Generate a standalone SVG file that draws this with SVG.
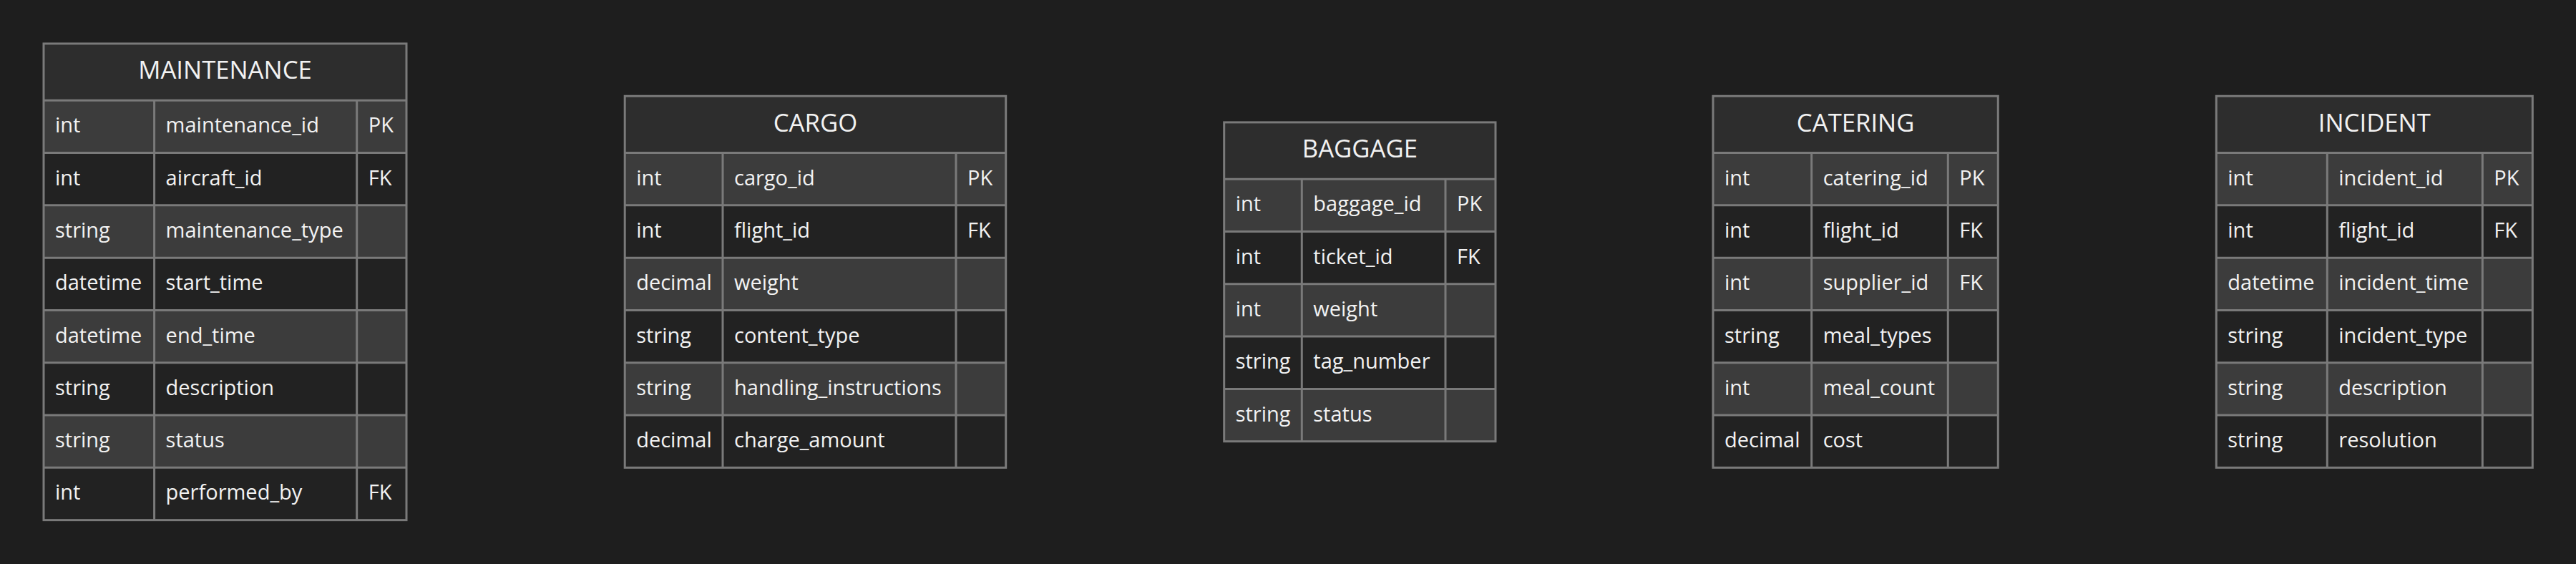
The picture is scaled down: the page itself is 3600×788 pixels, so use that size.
<svg xmlns="http://www.w3.org/2000/svg" width="3600" height="788" viewBox="0 0 3600 788">
<style>
.bg{fill:#1e1e1e}
.hd{fill:#2d2d2d}
.rl{fill:#3c3c3c}
.rd{fill:#222222}
.ln{stroke:#7a7a7a;stroke-width:3;fill:none}
.ht{font-family:"Open Sans","Noto Sans",sans-serif;font-size:34.7px;fill:#f2f2f2;text-anchor:middle}
.t{font-family:"Open Sans","Noto Sans",sans-serif;font-size:29px;fill:#f2f2f2}
</style>
<rect class="bg" x="0" y="0" width="3600" height="788"/>
<g id="connectors"/>

<g id="maintenance" transform="translate(61,60.95)">
<rect class="hd" x="0" y="0" width="507" height="79.3"/>
<rect class="rl" x="0" y="79.3" width="507" height="73.3"/>
<rect class="rd" x="0" y="152.6" width="507" height="73.3"/>
<rect class="rl" x="0" y="225.9" width="507" height="73.3"/>
<rect class="rd" x="0" y="299.2" width="507" height="73.3"/>
<rect class="rl" x="0" y="372.5" width="507" height="73.3"/>
<rect class="rd" x="0" y="445.8" width="507" height="73.3"/>
<rect class="rl" x="0" y="519.1" width="507" height="73.3"/>
<rect class="rd" x="0" y="592.4" width="507" height="73.3"/>
<path class="ln" d="M0 79.3H507M0 152.6H507M0 225.9H507M0 299.2H507M0 372.5H507M0 445.8H507M0 519.1H507M0 592.4H507M154.6 79.3V665.7M437.7 79.3V665.7"/>
<rect class="ln" x="0" y="0" width="507" height="665.7"/>
<text class="ht" x="253.5" y="49.35">MAINTENANCE</text>
<text class="t" x="16" y="124.45">int</text><text class="t" x="170.6" y="124.45">maintenance_id</text><text class="t" x="453.7" y="124.45">PK</text>
<text class="t" x="16" y="197.75">int</text><text class="t" x="170.6" y="197.75">aircraft_id</text><text class="t" x="453.7" y="197.75">FK</text>
<text class="t" x="16" y="271.05">string</text><text class="t" x="170.6" y="271.05">maintenance_type</text>
<text class="t" x="16" y="344.35">datetime</text><text class="t" x="170.6" y="344.35">start_time</text>
<text class="t" x="16" y="417.65">datetime</text><text class="t" x="170.6" y="417.65">end_time</text>
<text class="t" x="16" y="490.95">string</text><text class="t" x="170.6" y="490.95">description</text>
<text class="t" x="16" y="564.25">string</text><text class="t" x="170.6" y="564.25">status</text>
<text class="t" x="16" y="637.55">int</text><text class="t" x="170.6" y="637.55">performed_by</text><text class="t" x="453.7" y="637.55">FK</text>
</g>

<g id="cargo" transform="translate(873.2,134.25)">
<rect class="hd" x="0" y="0" width="532.5" height="79.3"/>
<rect class="rl" x="0" y="79.3" width="532.5" height="73.3"/>
<rect class="rd" x="0" y="152.6" width="532.5" height="73.3"/>
<rect class="rl" x="0" y="225.9" width="532.5" height="73.3"/>
<rect class="rd" x="0" y="299.2" width="532.5" height="73.3"/>
<rect class="rl" x="0" y="372.5" width="532.5" height="73.3"/>
<rect class="rd" x="0" y="445.8" width="532.5" height="73.3"/>
<path class="ln" d="M0 79.3H532.5M0 152.6H532.5M0 225.9H532.5M0 299.2H532.5M0 372.5H532.5M0 445.8H532.5M136.8 79.3V519.1M462.8 79.3V519.1"/>
<rect class="ln" x="0" y="0" width="532.5" height="519.1"/>
<text class="ht" x="266.25" y="49.35">CARGO</text>
<text class="t" x="16" y="124.45">int</text><text class="t" x="152.8" y="124.45">cargo_id</text><text class="t" x="478.8" y="124.45">PK</text>
<text class="t" x="16" y="197.75">int</text><text class="t" x="152.8" y="197.75">flight_id</text><text class="t" x="478.8" y="197.75">FK</text>
<text class="t" x="16" y="271.05">decimal</text><text class="t" x="152.8" y="271.05">weight</text>
<text class="t" x="16" y="344.35">string</text><text class="t" x="152.8" y="344.35">content_type</text>
<text class="t" x="16" y="417.65">string</text><text class="t" x="152.8" y="417.65">handling_instructions</text>
<text class="t" x="16" y="490.95">decimal</text><text class="t" x="152.8" y="490.95">charge_amount</text>
</g>

<g id="baggage" transform="translate(1710.7,170.9)">
<rect class="hd" x="0" y="0" width="379.3" height="79.3"/>
<rect class="rl" x="0" y="79.3" width="379.3" height="73.3"/>
<rect class="rd" x="0" y="152.6" width="379.3" height="73.3"/>
<rect class="rl" x="0" y="225.9" width="379.3" height="73.3"/>
<rect class="rd" x="0" y="299.2" width="379.3" height="73.3"/>
<rect class="rl" x="0" y="372.5" width="379.3" height="73.3"/>
<path class="ln" d="M0 79.3H379.3M0 152.6H379.3M0 225.9H379.3M0 299.2H379.3M0 372.5H379.3M108.6 79.3V445.8M309.3 79.3V445.8"/>
<rect class="ln" x="0" y="0" width="379.3" height="445.8"/>
<text class="ht" x="189.65" y="49.35">BAGGAGE</text>
<text class="t" x="16" y="124.45">int</text><text class="t" x="124.6" y="124.45">baggage_id</text><text class="t" x="325.3" y="124.45">PK</text>
<text class="t" x="16" y="197.75">int</text><text class="t" x="124.6" y="197.75">ticket_id</text><text class="t" x="325.3" y="197.75">FK</text>
<text class="t" x="16" y="271.05">int</text><text class="t" x="124.6" y="271.05">weight</text>
<text class="t" x="16" y="344.35">string</text><text class="t" x="124.6" y="344.35">tag_number</text>
<text class="t" x="16" y="417.65">string</text><text class="t" x="124.6" y="417.65">status</text>
</g>

<g id="catering" transform="translate(2394,134.25)">
<rect class="hd" x="0" y="0" width="398.3" height="79.3"/>
<rect class="rl" x="0" y="79.3" width="398.3" height="73.3"/>
<rect class="rd" x="0" y="152.6" width="398.3" height="73.3"/>
<rect class="rl" x="0" y="225.9" width="398.3" height="73.3"/>
<rect class="rd" x="0" y="299.2" width="398.3" height="73.3"/>
<rect class="rl" x="0" y="372.5" width="398.3" height="73.3"/>
<rect class="rd" x="0" y="445.8" width="398.3" height="73.3"/>
<path class="ln" d="M0 79.3H398.3M0 152.6H398.3M0 225.9H398.3M0 299.2H398.3M0 372.5H398.3M0 445.8H398.3M137.7 79.3V519.1M328.3 79.3V519.1"/>
<rect class="ln" x="0" y="0" width="398.3" height="519.1"/>
<text class="ht" x="199.15" y="49.35">CATERING</text>
<text class="t" x="16" y="124.45">int</text><text class="t" x="153.7" y="124.45">catering_id</text><text class="t" x="344.3" y="124.45">PK</text>
<text class="t" x="16" y="197.75">int</text><text class="t" x="153.7" y="197.75">flight_id</text><text class="t" x="344.3" y="197.75">FK</text>
<text class="t" x="16" y="271.05">int</text><text class="t" x="153.7" y="271.05">supplier_id</text><text class="t" x="344.3" y="271.05">FK</text>
<text class="t" x="16" y="344.35">string</text><text class="t" x="153.7" y="344.35">meal_types</text>
<text class="t" x="16" y="417.65">int</text><text class="t" x="153.7" y="417.65">meal_count</text>
<text class="t" x="16" y="490.95">decimal</text><text class="t" x="153.7" y="490.95">cost</text>
</g>

<g id="incident" transform="translate(3097.3,134.25)">
<rect class="hd" x="0" y="0" width="442" height="79.3"/>
<rect class="rl" x="0" y="79.3" width="442" height="73.3"/>
<rect class="rd" x="0" y="152.6" width="442" height="73.3"/>
<rect class="rl" x="0" y="225.9" width="442" height="73.3"/>
<rect class="rd" x="0" y="299.2" width="442" height="73.3"/>
<rect class="rl" x="0" y="372.5" width="442" height="73.3"/>
<rect class="rd" x="0" y="445.8" width="442" height="73.3"/>
<path class="ln" d="M0 79.3H442M0 152.6H442M0 225.9H442M0 299.2H442M0 372.5H442M0 445.8H442M155 79.3V519.1M372 79.3V519.1"/>
<rect class="ln" x="0" y="0" width="442" height="519.1"/>
<text class="ht" x="221" y="49.35">INCIDENT</text>
<text class="t" x="16" y="124.45">int</text><text class="t" x="171" y="124.45">incident_id</text><text class="t" x="388" y="124.45">PK</text>
<text class="t" x="16" y="197.75">int</text><text class="t" x="171" y="197.75">flight_id</text><text class="t" x="388" y="197.75">FK</text>
<text class="t" x="16" y="271.05">datetime</text><text class="t" x="171" y="271.05">incident_time</text>
<text class="t" x="16" y="344.35">string</text><text class="t" x="171" y="344.35">incident_type</text>
<text class="t" x="16" y="417.65">string</text><text class="t" x="171" y="417.65">description</text>
<text class="t" x="16" y="490.95">string</text><text class="t" x="171" y="490.95">resolution</text>
</g>
</svg>
